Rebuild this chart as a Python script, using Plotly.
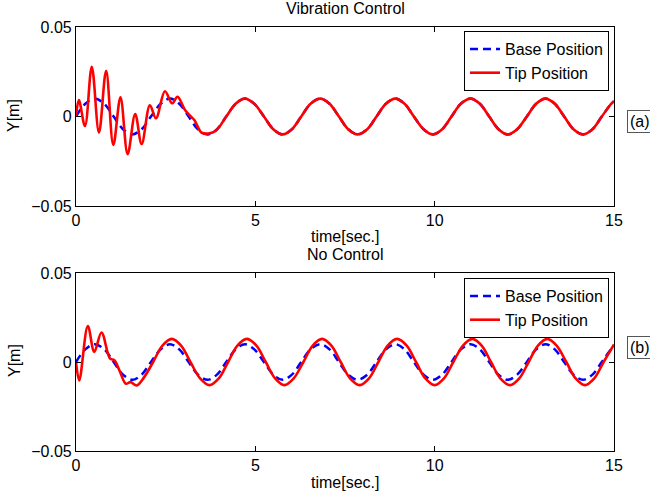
import plotly.graph_objects as go

# ---------------- data ----------------
t_base = [0.00, 0.26, 0.52, 0.79, 1.05, 1.31, 1.57, 1.83, 2.09, 2.36, 2.62, 2.88,
          3.14, 3.40, 3.67, 3.93, 4.19, 4.45, 4.71, 4.97, 5.24, 5.50, 5.76, 6.02,
          6.28, 6.54, 6.81, 7.07, 7.33, 7.59, 7.85, 8.12, 8.38, 8.64, 8.90, 9.16,
          9.42, 9.69, 9.95, 10.21, 10.47, 10.73, 11.00, 11.26, 11.52, 11.78, 12.04,
          12.30, 12.57, 12.83, 13.09, 13.35, 13.61, 13.87, 14.14, 14.40, 14.66,
          14.92, 15.00]
y_base = [0.0000, 0.0071, 0.0100, 0.0071, 0.0000, -0.0071, -0.0100, -0.0071,
          0.0000, 0.0071, 0.0100, 0.0071, 0.0000, -0.0071, -0.0100, -0.0071,
          0.0000, 0.0071, 0.0100, 0.0071, 0.0000, -0.0071, -0.0100, -0.0071,
          0.0000, 0.0071, 0.0100, 0.0071, 0.0000, -0.0071, -0.0100, -0.0071,
          0.0000, 0.0071, 0.0100, 0.0071, 0.0000, -0.0071, -0.0100, -0.0071,
          0.0000, 0.0071, 0.0100, 0.0071, 0.0000, -0.0071, -0.0100, -0.0071,
          0.0000, 0.0071, 0.0100, 0.0071, 0.0000, -0.0071, -0.0100, -0.0071,
          0.0000, 0.0071, 0.0085]

# (a) Vibration Control - tip position
t_tip_a = [0.00, 0.08, 0.25, 0.44, 0.64, 0.84, 1.04, 1.24, 1.44, 1.65, 1.83, 2.06,
           2.23, 2.48, 2.68, 2.83, 3.04, 3.20, 3.30, 3.50, 3.69, 3.90,
           4.19, 4.45, 4.71, 4.97, 5.24, 5.50, 5.76, 6.02,
           6.28, 6.54, 6.81, 7.07, 7.33, 7.59, 7.85, 8.12, 8.38, 8.64, 8.90, 9.16,
           9.42, 9.69, 9.95, 10.21, 10.47, 10.73, 11.00, 11.26, 11.52, 11.78, 12.04,
           12.30, 12.57, 12.83, 13.09, 13.35, 13.61, 13.87, 14.14, 14.40, 14.66,
           14.92, 15.00]
y_tip_a = [0.0000, 0.0092, -0.0053, 0.0278, -0.0090, 0.0256, -0.0159, 0.0107,
           -0.0210, 0.0014, -0.0154, 0.0063, -0.0010, 0.0141, 0.0074, 0.0110,
           0.0036, 0.0000, -0.0020, -0.0090, -0.0095, -0.0080,
           0.0000, 0.0071, 0.0100, 0.0071, 0.0000, -0.0071, -0.0100, -0.0071,
           0.0000, 0.0071, 0.0100, 0.0071, 0.0000, -0.0071, -0.0100, -0.0071,
           0.0000, 0.0071, 0.0100, 0.0071, 0.0000, -0.0071, -0.0100, -0.0071,
           0.0000, 0.0071, 0.0100, 0.0071, 0.0000, -0.0071, -0.0100, -0.0071,
           0.0000, 0.0071, 0.0100, 0.0071, 0.0000, -0.0071, -0.0100, -0.0071,
           0.0000, 0.0071, 0.0085]

# (b) No Control - tip position
t_tip_b = [0.00, 0.09, 0.33, 0.51, 0.71, 0.95, 1.07, 1.21, 1.39, 1.52, 1.69, 1.90,
           2.15, 2.41,
           2.67, 2.93, 3.19, 3.46, 3.72, 3.98, 4.24, 4.50,
           4.76, 5.03, 5.29, 5.55, 5.81, 6.07, 6.34, 6.60,
           6.86, 7.12, 7.38, 7.64, 7.91, 8.17, 8.43, 8.69,
           8.95, 9.22, 9.48, 9.74, 10.00, 10.26, 10.52, 10.79,
           11.05, 11.31, 11.57, 11.83, 12.10, 12.36, 12.62, 12.88,
           13.14, 13.40, 13.67, 13.93, 14.19, 14.45, 14.71, 14.98,
           15.00]
y_tip_b = [0.0000, -0.0104, 0.0202, 0.0057, 0.0166, 0.0019, 0.0010, -0.0047,
           -0.0122, -0.0113, -0.0132, -0.0085, 0.0000, 0.0092,
           0.0130, 0.0092, 0.0000, -0.0092, -0.0130, -0.0092, 0.0000, 0.0092,
           0.0130, 0.0092, 0.0000, -0.0092, -0.0130, -0.0092, 0.0000, 0.0092,
           0.0130, 0.0092, 0.0000, -0.0092, -0.0130, -0.0092, 0.0000, 0.0092,
           0.0130, 0.0092, 0.0000, -0.0092, -0.0130, -0.0092, 0.0000, 0.0092,
           0.0130, 0.0092, 0.0000, -0.0092, -0.0130, -0.0092, 0.0000, 0.0092,
           0.0130, 0.0092, 0.0000, -0.0092, -0.0130, -0.0092, 0.0000, 0.0092,
           0.0099]

x_ticks = [0, 5, 10, 15]
y_ticks = [-0.05, 0, 0.05]
y_tick_text = ["\u22120.05", "0", "0.05"]
titles = ["Vibration Control", "No Control"]
panel_tags = ["(a)", "(b)"]
series_names = ["Base Position", "Tip Position"]

# ---------------- layout geometry ----------------
W, H = 650, 498
ML, MR, MT, MB = 76, 36, 27, 47
PW, PH = W - ML - MR, H - MT - MB


def px_x(px):
    return (px - ML) / PW


def px_y(py):
    return (H - MB - py) / PH


FONT = "Liberation Sans, Arial, Helvetica, sans-serif"
FS = 16
BLUE, RED = "#0000ff", "#ff0000"

fig = go.Figure()

fig.add_trace(go.Scatter(x=t_base, y=y_base, mode="lines", name=series_names[0],
                         line=dict(color=BLUE, width=2.5, dash="8px,5px", shape="spline"),
                         xaxis="x", yaxis="y", legend="legend"))
fig.add_trace(go.Scatter(x=t_tip_a, y=y_tip_a, mode="lines", name=series_names[1],
                         line=dict(color=RED, width=2.6, shape="spline"),
                         xaxis="x", yaxis="y", legend="legend"))
fig.add_trace(go.Scatter(x=t_base, y=y_base, mode="lines", name=series_names[0],
                         line=dict(color=BLUE, width=2.5, dash="8px,5px", shape="spline"),
                         xaxis="x2", yaxis="y2", legend="legend2"))
fig.add_trace(go.Scatter(x=t_tip_b, y=y_tip_b, mode="lines", name=series_names[1],
                         line=dict(color=RED, width=2.6, shape="spline"),
                         xaxis="x2", yaxis="y2", legend="legend2"))

axis_common = dict(showline=True, linecolor="black", linewidth=1.2, mirror="ticks",
                   ticks="inside", ticklen=5, tickcolor="black", showgrid=False,
                   zeroline=False, tickfont=dict(family=FONT, size=FS, color="black"))

top_y0 = px_y(206)
bot_y1 = px_y(273)

fig.update_layout(
    width=W, height=H, autosize=False,
    margin=dict(l=ML, r=MR, t=MT, b=MB, pad=0),
    paper_bgcolor="white", plot_bgcolor="white",
    font=dict(family=FONT, size=FS, color="black"),
    xaxis=dict(domain=[0, 1], anchor="y", range=[0, 15], tickvals=x_ticks, **axis_common),
    yaxis=dict(domain=[top_y0, 1], anchor="x", range=[-0.05, 0.05], tickvals=y_ticks,
               ticktext=y_tick_text, **axis_common),
    xaxis2=dict(domain=[0, 1], anchor="y2", range=[0, 15], tickvals=x_ticks, **axis_common),
    yaxis2=dict(domain=[0, bot_y1], anchor="x2", range=[-0.05, 0.05], tickvals=y_ticks,
                ticktext=y_tick_text, **axis_common),
    legend=dict(x=px_x(609), y=px_y(31), xanchor="right", yanchor="top",
                bgcolor="white", bordercolor="black", borderwidth=1,
                font=dict(family=FONT, size=FS, color="black"), tracegroupgap=0),
    legend2=dict(x=px_x(609), y=px_y(278), xanchor="right", yanchor="top",
                 bgcolor="white", bordercolor="black", borderwidth=1,
                 font=dict(family=FONT, size=FS, color="black"), tracegroupgap=0),
    showlegend=True,
)

ann = []
for title, cy in zip(titles, [8, 254]):
    ann.append(dict(text=title, x=px_x(345), y=px_y(cy), xref="paper", yref="paper",
                    xanchor="center", yanchor="middle", showarrow=False,
                    font=dict(family=FONT, size=FS, color="black")))
for cy in [237, 482]:
    ann.append(dict(text="time[sec.]", x=px_x(345), y=px_y(cy), xref="paper", yref="paper",
                    xanchor="center", yanchor="middle", showarrow=False,
                    font=dict(family=FONT, size=FS, color="black")))
for cy in [116, 361]:
    ann.append(dict(text="Y[m]", x=px_x(14), y=px_y(cy), xref="paper", yref="paper",
                    xanchor="center", yanchor="middle", showarrow=False, textangle=-90,
                    font=dict(family=FONT, size=FS, color="black")))
for tag, cy in zip(panel_tags, [121, 347]):
    ann.append(dict(text=tag, x=px_x(627), y=px_y(cy), xref="paper", yref="paper",
                    xanchor="left", yanchor="middle", showarrow=False,
                    bgcolor="white", bordercolor="#555555", borderwidth=1, borderpad=2,
                    font=dict(family=FONT, size=FS, color="black")))
fig.update_layout(annotations=ann)

fig.write_html("out.html")
